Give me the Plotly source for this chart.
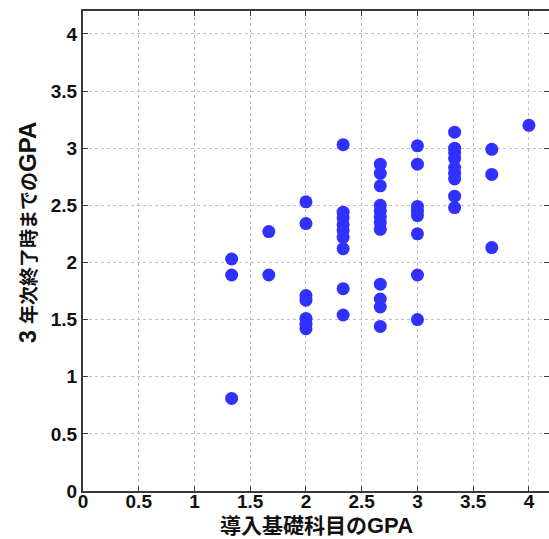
import plotly.graph_objects as go

# 導入基礎科目のGPA (x) と 3年次終了時までのGPA (y)
intro_gpa = (
    [4/3] * 3
    + [5/3] * 2
    + [2.0] * 7
    + [7/3] * 9
    + [8/3] * 12
    + [3.0] * 8
    + [10/3] * 9
    + [11/3] * 3
    + [4.0] * 1
)
year3_gpa = (
    [2.03, 1.89, 0.81]
    + [2.27, 1.89]
    + [2.53, 2.34, 1.71, 1.67, 1.51, 1.46, 1.42]
    + [3.03, 2.44, 2.39, 2.33, 2.28, 2.22, 2.12, 1.77, 1.54]
    + [2.86, 2.78, 2.67, 2.50, 2.45, 2.40, 2.35, 2.29, 1.81, 1.68, 1.61, 1.44]
    + [3.02, 2.86, 2.49, 2.45, 2.41, 2.25, 1.89, 1.50]
    + [3.14, 3.00, 2.96, 2.91, 2.83, 2.78, 2.73, 2.58, 2.48]
    + [2.99, 2.77, 2.13]
    + [3.20]
)

x_ticks = [0, 0.5, 1, 1.5, 2, 2.5, 3, 3.5, 4]
y_ticks = [0, 0.5, 1, 1.5, 2, 2.5, 3, 3.5, 4]

LATIN = "Liberation Sans, Arial, Helvetica, sans-serif"
CJK = "Noto Sans CJK JP, sans-serif"
num_font = dict(family=LATIN, size=19, color="#111")

fig = go.Figure(
    go.Scatter(
        x=intro_gpa,
        y=year3_gpa,
        mode="markers",
        marker=dict(size=13, color="#3030ff", line=dict(width=0)),
        showlegend=False,
    )
)

# invisible trace so the right-hand tick axis is drawn
fig.add_trace(go.Scatter(x=[None], y=[None], yaxis="y2", showlegend=False, hoverinfo="skip"))

grid_style = dict(
    showgrid=True,
    gridcolor="#c0c0c0",
    gridwidth=1,
    griddash="dot",
    zeroline=False,
)

fig.update_layout(
    width=549,
    height=539,
    margin=dict(l=83, r=0, t=11, b=48),
    paper_bgcolor="white",
    plot_bgcolor="white",
    xaxis=dict(
        range=[0, 4.18],
        tickvals=x_ticks,
        ticktext=[f"<b>{t:g}</b>" for t in x_ticks],
        tickfont=num_font,
        ticklabelstandoff=-8,
        showline=True,
        mirror="ticks",
        linecolor="#3a3a3a",
        linewidth=2,
        ticks="inside",
        ticklen=5,
        tickwidth=1,
        tickcolor="#3a3a3a",
        **grid_style,
    ),
    yaxis=dict(
        range=[0, 4.2],
        tickvals=y_ticks,
        ticktext=[f"<b>{t:g}</b>" for t in y_ticks],
        tickfont=num_font,
        showline=True,
        mirror=False,
        linecolor="#3a3a3a",
        linewidth=2,
        ticks="inside",
        ticklen=5,
        tickwidth=1,
        tickcolor="#3a3a3a",
        **grid_style,
    ),
    yaxis2=dict(
        range=[0, 4.2],
        overlaying="y",
        side="right",
        tickvals=y_ticks,
        showticklabels=False,
        ticks="inside",
        ticklen=5,
        tickwidth=1,
        tickcolor="#3a3a3a",
        showgrid=False,
        showline=False,
        zeroline=False,
    ),
)

# axis titles: kanji/kana in the CJK face, Latin letters in the sans face
x_title = (
    f'<span style="font-family:{CJK};font-size:21px">導入基礎科目の</span>'
    f'<span style="font-family:{LATIN};font-size:22px">GPA</span>'
)
y_title = (
    f'<span style="font-family:{LATIN};font-size:23px">3 </span>'
    f'<span style="font-family:{CJK};font-size:19px">年次終了時までの</span>'
    f'<span style="font-family:{LATIN};font-size:24px">GPA</span>'
)

fig.add_annotation(
    text=f"<b>{x_title}</b>",
    xref="paper", yref="paper",
    x=0.5, y=-0.103,
    xanchor="center", yanchor="bottom",
    showarrow=False,
    font=dict(color="#111", size=18),
    borderpad=0,
)
fig.add_annotation(
    text=f"<b>{y_title}</b>",
    xref="paper", yref="paper",
    x=-0.12, y=0.5375,
    xanchor="center", yanchor="middle",
    textangle=-90,
    showarrow=False,
    font=dict(color="#111"),
)

fig.write_html("out.html")
